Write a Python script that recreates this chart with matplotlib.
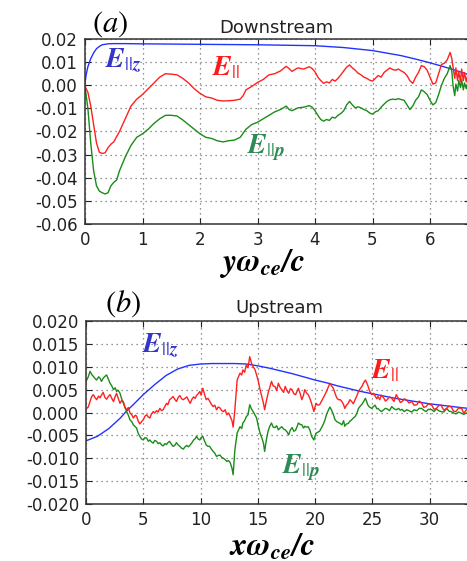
import numpy as np
import matplotlib
matplotlib.use('Agg')
import matplotlib.pyplot as plt

plt.rcParams['mathtext.fontset'] = 'stix'
plt.rcParams['font.family'] = ['DejaVu Sans']

# ---- panel (a): downstream ----
xa_red = [0, 0.05, 0.1, 0.15, 0.2, 0.25, 0.3, 0.35, 0.4, 0.45, 0.5, 0.6, 0.7, 0.8, 0.9,
          1.0, 1.1, 1.2, 1.3, 1.4, 1.5, 1.6, 1.7, 1.8, 1.9, 2.0, 2.1, 2.2, 2.3, 2.4,
          2.5, 2.6, 2.7, 2.75, 2.8, 2.9, 3.0, 3.1, 3.2, 3.3, 3.4, 3.5, 3.55, 3.6, 3.7,
          3.8, 3.9, 3.95, 4.0, 4.05, 4.1, 4.15, 4.2, 4.25, 4.3, 4.35, 4.4, 4.45, 4.5,
          4.55, 4.6, 4.65, 4.7, 4.75, 4.8, 4.85, 4.9, 4.95, 5.0, 5.05, 5.1, 5.15, 5.2,
          5.25, 5.3, 5.35, 5.4, 5.45, 5.5, 5.55, 5.6, 5.65, 5.7, 5.75, 5.8, 5.85, 5.9,
          5.95, 6.0, 6.05, 6.1, 6.15, 6.2, 6.25, 6.3, 6.35, 6.38, 6.4, 6.43, 6.45, 6.48,
          6.5, 6.53, 6.55, 6.58, 6.6, 6.63, 6.66, 6.7]
ya_red = [-0.0005, -0.003, -0.009, -0.017, -0.025, -0.029, -0.0295, -0.0292, -0.027,
          -0.0255, -0.0245, -0.02, -0.0145, -0.009, -0.006, -0.004, -0.0015, 0.001,
          0.0035, 0.005, 0.0048, 0.0045, 0.003, 0.001, -0.0015, -0.0035, -0.005,
          -0.0055, -0.0065, -0.0068, -0.0067, -0.0065, -0.006, -0.0045, -0.002,
          -0.0005, 0.0012, 0.0025, 0.0045, 0.005, 0.0062, 0.0082, 0.0072, 0.006,
          0.0075, 0.007, 0.008, 0.0072, 0.0058, 0.0035, 0.002, 0.0008, 0.0015, 0.001,
          0.0025, 0.0018, 0.003, 0.0045, 0.0062, 0.0078, 0.0088, 0.0075, 0.0065,
          0.0052, 0.0045, 0.0035, 0.003, 0.0022, 0.0018, 0.003, 0.0042, 0.0035,
          0.0055, 0.0065, 0.0075, 0.0068, 0.0065, 0.007, 0.0062, 0.0055, 0.0042,
          0.002, 0.0008, 0.0035, 0.0055, 0.0085, 0.008, 0.0065, 0.0035, 0.0005,
          0.001, 0.005, 0.009, 0.0095, 0.011, 0.0142, 0.0115, 0.008, 0.003, 0.0075,
          0.002, 0.006, 0.0015, 0.007, 0.002, 0.0055, 0.0015, 0.005, 0.003]

xa_green = [0, 0.05, 0.1, 0.15, 0.2, 0.25, 0.3, 0.35, 0.4, 0.45, 0.5, 0.55, 0.6, 0.7,
            0.8, 0.9, 1.0, 1.1, 1.2, 1.3, 1.4, 1.5, 1.6, 1.7, 1.8, 1.9, 2.0, 2.1, 2.2,
            2.3, 2.4, 2.5, 2.6, 2.7, 2.8, 2.9, 3.0, 3.1, 3.2, 3.3, 3.4, 3.5, 3.55, 3.6,
            3.7, 3.8, 3.9, 3.95, 4.0, 4.05, 4.1, 4.15, 4.2, 4.25, 4.3, 4.35, 4.4, 4.45,
            4.5, 4.55, 4.6, 4.65, 4.7, 4.75, 4.8, 4.85, 4.9, 4.95, 5.0, 5.05, 5.1, 5.15,
            5.2, 5.25, 5.3, 5.35, 5.4, 5.45, 5.5, 5.55, 5.6, 5.65, 5.7, 5.75, 5.8, 5.85,
            5.9, 5.95, 6.0, 6.05, 6.1, 6.15, 6.2, 6.25, 6.3, 6.35, 6.38, 6.4, 6.43,
            6.45, 6.48, 6.5, 6.53, 6.55, 6.58, 6.6, 6.63, 6.66, 6.7]
ya_green = [-0.0005, -0.01, -0.025, -0.037, -0.0435, -0.0458, -0.0465, -0.047,
            -0.0465, -0.0435, -0.042, -0.041, -0.037, -0.031, -0.026, -0.0225, -0.021,
            -0.019, -0.0165, -0.0145, -0.013, -0.013, -0.0133, -0.015, -0.017, -0.019,
            -0.021, -0.0225, -0.023, -0.024, -0.0245, -0.024, -0.0237, -0.0225,
            -0.019, -0.017, -0.016, -0.0145, -0.013, -0.0115, -0.0105, -0.009,
            -0.0105, -0.011, -0.0098, -0.0095, -0.0088, -0.0095, -0.011, -0.013,
            -0.0148, -0.0155, -0.0148, -0.0152, -0.0138, -0.0142, -0.013, -0.0122,
            -0.011, -0.0085, -0.007, -0.0085, -0.0098, -0.0093, -0.0098, -0.0105,
            -0.011, -0.012, -0.0125, -0.0115, -0.011, -0.0095, -0.0082, -0.007,
            -0.0063, -0.006, -0.0062, -0.0058, -0.0062, -0.0065, -0.0085, -0.0105,
            -0.009, -0.0065, -0.005, -0.002, -0.0028, -0.004, -0.0065, -0.0085,
            -0.0075, -0.004, 0.0, 0.003, 0.005, 0.0085, 0.006, 0.0, -0.0045, 0.0005,
            -0.0025, 0.002, -0.001, 0.0025, -0.002, 0.001, -0.0015, 0.0015, -0.0005]

xa_blue = [0, 0.02, 0.05, 0.1, 0.15, 0.2, 0.25, 0.3, 0.4, 0.5, 0.7, 1.0, 2.0, 3.0, 3.5,
           4.0, 4.5, 5.0, 5.5, 5.8, 6.0, 6.2, 6.4, 6.6, 6.7]
ya_blue = [0.001, 0.0045, 0.008, 0.0115, 0.014, 0.0158, 0.0168, 0.0175, 0.0179, 0.018,
           0.018, 0.0179, 0.0177, 0.0175, 0.0173, 0.0171, 0.0163, 0.015, 0.0128,
           0.0110, 0.0097, 0.0083, 0.0068, 0.0052, 0.0043]

# ---- panel (b): upstream ----
xb_red = [0, 0.2, 0.35, 0.5, 0.64, 0.8, 0.93, 1.1, 1.22, 1.35, 1.5, 1.65, 1.8, 1.95,
          2.1, 2.25, 2.4, 2.55, 2.67, 2.8, 2.97, 3.1, 3.26, 3.4, 3.55, 3.7, 3.84, 4.0,
          4.13, 4.3, 4.42, 4.55, 4.7, 4.85, 5.0, 5.15, 5.3, 5.45, 5.58, 5.7, 5.87, 6.0,
          6.16, 6.3, 6.45, 6.6, 6.74, 6.9, 7.03, 7.15, 7.3, 7.45, 7.6, 7.75, 7.9, 8.05,
          8.2, 8.35, 8.5, 8.65, 8.8, 8.95, 9.1, 9.25, 9.4, 9.55, 9.65, 9.8, 9.94, 10.05,
          10.2, 10.35, 10.5, 10.65, 10.8, 10.95, 11.1, 11.25, 11.4, 11.55, 11.7, 11.85,
          12.0, 12.15, 12.3, 12.45, 12.6, 12.75, 12.85, 13.0, 13.2, 13.45, 13.6, 13.7,
          13.85, 14.0, 14.15, 14.3, 14.45, 14.6, 14.75, 14.9, 15.05, 15.2, 15.35, 15.5,
          15.6, 15.75, 15.9, 16.05, 16.2, 16.35, 16.5, 16.65, 16.8, 16.95, 17.1, 17.25,
          17.4, 17.55, 17.7, 17.85, 18.0, 18.15, 18.3, 18.45, 18.55, 18.7, 18.85, 19.0,
          19.1, 19.25, 19.4, 19.55, 19.7, 19.9, 20.0, 20.1, 20.25, 20.4, 20.55, 20.7,
          20.85, 21.0, 21.15, 21.3, 21.45, 21.6, 21.75, 21.9, 22.05, 22.2, 22.35, 22.5,
          22.6, 22.75, 22.9, 23.05, 23.2, 23.35, 23.5, 23.65, 23.8, 23.95, 24.1, 24.25,
          24.4, 24.5, 24.6, 24.75, 24.95, 25.1, 25.25, 25.4, 25.5, 25.65, 25.8, 26.0,
          26.15, 26.3, 26.5, 26.7, 26.9, 27.1, 27.3, 27.45, 27.6, 27.8, 28.0, 28.2,
          28.45, 28.65, 28.9, 29.1, 29.3, 29.5, 29.7, 29.9, 30.2, 30.4, 30.6, 30.8,
          31.0, 31.25, 31.5, 31.7, 31.9, 32.1, 32.3, 32.55, 32.8, 33.0, 33.2, 33.4]
yb_red = [0.0008, 0.0012, 0.0024, 0.0035, 0.0039, 0.0032, 0.0028, 0.0036, 0.0032,
          0.0038, 0.0044, 0.0033, 0.0029, 0.0035, 0.0039, 0.0031, 0.0024, 0.0035,
          0.0042, 0.0032, 0.002, 0.0026, 0.0024, 0.0012, 0.0006, 0.0011, -0.0001,
          -0.0005, -0.0012, -0.0006, -0.0008, -0.0018, -0.0025, -0.002, -0.0016,
          -0.0008, -0.0005, -0.001, -0.0012, -0.0004, 0.0002, -0.0001, 0.0004, 0.0001,
          0.0009, 0.0004, 0.0006, 0.0014, 0.002, 0.0017, 0.0028, 0.0031, 0.0035,
          0.0029, 0.0024, 0.0033, 0.0037, 0.003, 0.0028, 0.0031, 0.0034, 0.0027,
          0.002, 0.0029, 0.0034, 0.0031, 0.0037, 0.0041, 0.0046, 0.0038, 0.0053,
          0.004, 0.0028, 0.0031, 0.0025, 0.0018, 0.0013, 0.0016, 0.0006, 0.0012,
          0.001, 0.0004, 0.0002, 0.0006, -0.0005, -0.0001, -0.0009, -0.0018, -0.0032,
          0.0006, 0.0071, 0.0086, 0.0082, 0.0093, 0.0088, 0.0104, 0.0098, 0.0122,
          0.0108, 0.0100, 0.0094, 0.0082, 0.0068, 0.005, 0.0035, 0.002, 0.0006,
          0.0025, 0.0042, 0.0055, 0.0068, 0.0058, 0.0057, 0.0048, 0.0064, 0.0055,
          0.005, 0.0044, 0.0057, 0.0048, 0.0042, 0.0052, 0.005, 0.0041, 0.0039,
          0.0047, 0.0053, 0.0042, 0.0028, 0.0038, 0.005, 0.0043, 0.0039, 0.0031,
          0.002, 0.0002, 0.0012, 0.002, 0.0016, 0.0017, 0.0024, 0.0031, 0.0038,
          0.0046, 0.0055, 0.0064, 0.0058, 0.0053, 0.0042, 0.0032, 0.0028, 0.0028,
          0.0024, 0.0017, 0.0009, 0.0016, 0.002, 0.0028, 0.0024, 0.0019, 0.0028,
          0.0036, 0.0046, 0.0052, 0.0057, 0.0065, 0.0071, 0.0066, 0.006, 0.0048,
          0.0039, 0.0042, 0.0036, 0.003, 0.0035, 0.0028, 0.0038, 0.0032, 0.0025,
          0.0028, 0.0034, 0.0031, 0.0024, 0.0039, 0.003, 0.0022, 0.0024, 0.003,
          0.0027, 0.0021, 0.0024, 0.0016, 0.0017, 0.0025, 0.0021, 0.0011, 0.0013,
          0.0019, 0.0016, 0.0007, 0.0009, 0.0015, 0.0016, 0.0005, 0.0009, 0.0014,
          0.0012, 0.0003, 0.0002, 0.001, 0.0009, -0.0002, 0.0006, 0.0003]

xb_green = xb_red
yb_green = [0.0068, 0.0078, 0.009, 0.0083, 0.0079, 0.0074, 0.0071, 0.0078, 0.0075,
            0.0068, 0.0075, 0.0079, 0.0082, 0.0073, 0.0064, 0.0058, 0.005, 0.0054,
            0.0046, 0.0049, 0.0042, 0.0031, 0.002, 0.0011, 0.0002, -0.0006, -0.0016,
            -0.002, -0.0027, -0.0031, -0.0034, -0.0045, -0.0052, -0.0058, -0.006,
            -0.0055, -0.0056, -0.0063, -0.006, -0.0064, -0.0067, -0.0061, -0.0063,
            -0.0068, -0.0066, -0.0071, -0.0073, -0.0068, -0.007, -0.0066, -0.0063,
            -0.0069, -0.0074, -0.0072, -0.0066, -0.0071, -0.0074, -0.0078, -0.008,
            -0.0075, -0.0072, -0.0075, -0.0071, -0.0066, -0.006, -0.0057, -0.0052,
            -0.0058, -0.006, -0.0055, -0.0052, -0.0062, -0.0071, -0.0074, -0.0074,
            -0.008, -0.0085, -0.0089, -0.0096, -0.0094, -0.0093, -0.0098, -0.01,
            -0.0103, -0.0107, -0.0105, -0.011, -0.0122, -0.0136, -0.0082, -0.0045,
            -0.0031, -0.0035, -0.0023, -0.0018, -0.0009, -0.0005, 0.0017, 0.0008,
            0.0002, -0.0005, -0.0012, -0.003, -0.0045, -0.0055, -0.0067, -0.0085,
            -0.006, -0.0041, -0.003, -0.0023, -0.0032, -0.0033, -0.0029, -0.0038,
            -0.0034, -0.0031, -0.0036, -0.0038, -0.0042, -0.0049, -0.0038, -0.0033,
            -0.0041, -0.0039, -0.003, -0.0023, -0.0026, -0.0027, -0.0034, -0.003,
            -0.0032, -0.0031, -0.0038, -0.0052, -0.006, -0.0052, -0.0045, -0.0043,
            -0.0041, -0.0034, -0.0027, -0.0018, -0.0005, 0.0004, 0.0012, 0.0005,
            -0.0004, -0.0016, -0.002, -0.0022, -0.0024, -0.0027, -0.0018, -0.003,
            -0.0025, -0.0024, -0.0019, -0.0016, -0.0012, -0.0009, -0.0002, 0.0009,
            0.0014, 0.0018, 0.0024, 0.0031, 0.0025, 0.0017, 0.0012, 0.0009, 0.0013,
            0.0016, 0.0008, 0.0009, 0.0005, 0.0002, 0.0006, 0.0009, 0.0008, 0.0004,
            0.0013, 0.0008, 0.0006, 0.0009, 0.0005, 0.0007, 0.0002, 0.0006, 0.0004,
            0.0001, 0.0006, 0.0004, 0.0009, 0.0009, 0.0005, 0.0002, 0.0007, 0.0006,
            0.0002, 0.0008, 0.0004, 0.0002, 0.0001, 0.0009, 0.0003, 0.0002, -0.0001,
            -0.0003, 0.0001, -0.0002, -0.0004, -0.0001, -0.0003]

xb_blue = [0, 1, 2, 3, 3.5, 4, 5, 6, 7, 8, 9, 10, 11, 12, 13, 14, 15, 16, 17, 18, 19,
           20, 21, 22, 23, 24, 25, 26, 27, 28, 29, 30, 31, 32, 33, 33.5]
yb_blue = [-0.0062, -0.0052, -0.0035, -0.0012, 0.0002, 0.0014, 0.0039, 0.0061, 0.0081,
           0.0095, 0.0103, 0.0106, 0.0107, 0.0107, 0.0107, 0.0106, 0.0102, 0.0097,
           0.0091, 0.0085, 0.0078, 0.0071, 0.0065, 0.0058, 0.0052, 0.0046, 0.0041,
           0.0036, 0.0031, 0.0027, 0.0023, 0.0019, 0.0016, 0.0013, 0.001, 0.0009]

W, H = 467, 561
fig = plt.figure(figsize=(W / 100, H / 100), dpi=100)


def px_axes(left, top, right, bottom):
    return fig.add_axes([left / W, 1 - bottom / H, (right - left) / W, (bottom - top) / H])


def style(ax):
    ax.grid(True, color='0.45', linestyle=(0, (1, 3)), linewidth=0.9)
    ax.tick_params(direction='in', top=True, right=True, labelsize=12, pad=5,
                   length=4, colors='#222222')
    for s in ax.spines.values():
        s.set_linewidth(1.1)
        s.set_color('#333333')


ax1 = px_axes(85, 39, 470, 224)
ax1.plot(xa_blue, ya_blue, color='#2233ff', lw=1.0)
ax1.plot(xa_green, ya_green, color='#1a8c1a', lw=1.0)
ax1.plot(xa_red, ya_red, color='#ff2020', lw=1.0)
ax1.set_xlim(0, (470 - 85) / 57.5)
ax1.set_ylim(-0.06, 0.02)
ax1.set_xticks(range(0, 7))
ax1.set_yticks(np.arange(-0.06, 0.021, 0.01))
ax1.yaxis.set_major_formatter(matplotlib.ticker.FormatStrFormatter('%.2f'))
style(ax1)

ax2 = px_axes(86, 321, 470, 504)
ax2.plot(xb_blue, yb_blue, color='#2233ff', lw=1.0)
ax2.plot(xb_green, yb_green, color='#1a8c1a', lw=1.0)
ax2.plot(xb_red, yb_red, color='#ff2020', lw=1.0)
ax2.set_xlim(0, (470 - 86) / 11.45)
ax2.set_ylim(-0.02, 0.02)
ax2.set_xticks(range(0, 31, 5))
ax2.set_yticks(np.arange(-0.02, 0.0201, 0.005))
ax2.yaxis.set_major_formatter(matplotlib.ticker.FormatStrFormatter('%.3f'))
style(ax2)


def ftext(x, y, s, **kw):
    fig.text(x / W, 1 - y / H, s, **kw)


# titles and panel tags
ftext(276, 33, 'Downstream', ha='center', va='baseline', fontsize=13, color='#222222')
ftext(279, 313, 'Upstream', ha='center', va='baseline', fontsize=13, color='#222222')
ftext(92, 24, r'$(a)$', ha='left', va='center', fontsize=22)
ftext(105, 304, r'$(b)$', ha='left', va='center', fontsize=22)

# axis labels
ftext(262, 264, r'$\mathbfit{y\omega_{ce}/c}$', ha='center', va='center', fontsize=23)
ftext(272, 547, r'$\mathbfit{x\omega_{ce}/c}$', ha='center', va='center', fontsize=23)

# curve labels
blue_lab = '#3535c8'
green_lab = '#2e8b57'
red_lab = '#ff1a1a'
ftext(105, 68, r'$\mathbfit{E}_{||\mathbfit{z}}$', color=blue_lab, fontsize=20, va='baseline')
ftext(212, 75, r'$\mathbfit{E}_{||}$', color=red_lab, fontsize=20, va='baseline')
ftext(247, 153, r'$\mathbfit{E}_{||\mathbfit{p}}$', color=green_lab, fontsize=20, va='baseline')
ftext(142, 353, r'$\mathbfit{E}_{||\mathbfit{z}}$', color=blue_lab, fontsize=20, va='baseline')
ftext(371, 378, r'$\mathbfit{E}_{||}$', color=red_lab, fontsize=20, va='baseline')
ftext(282, 473, r'$\mathbfit{E}_{||\mathbfit{p}}$', color=green_lab, fontsize=20, va='baseline')

fig.savefig('out.png', dpi=100)
